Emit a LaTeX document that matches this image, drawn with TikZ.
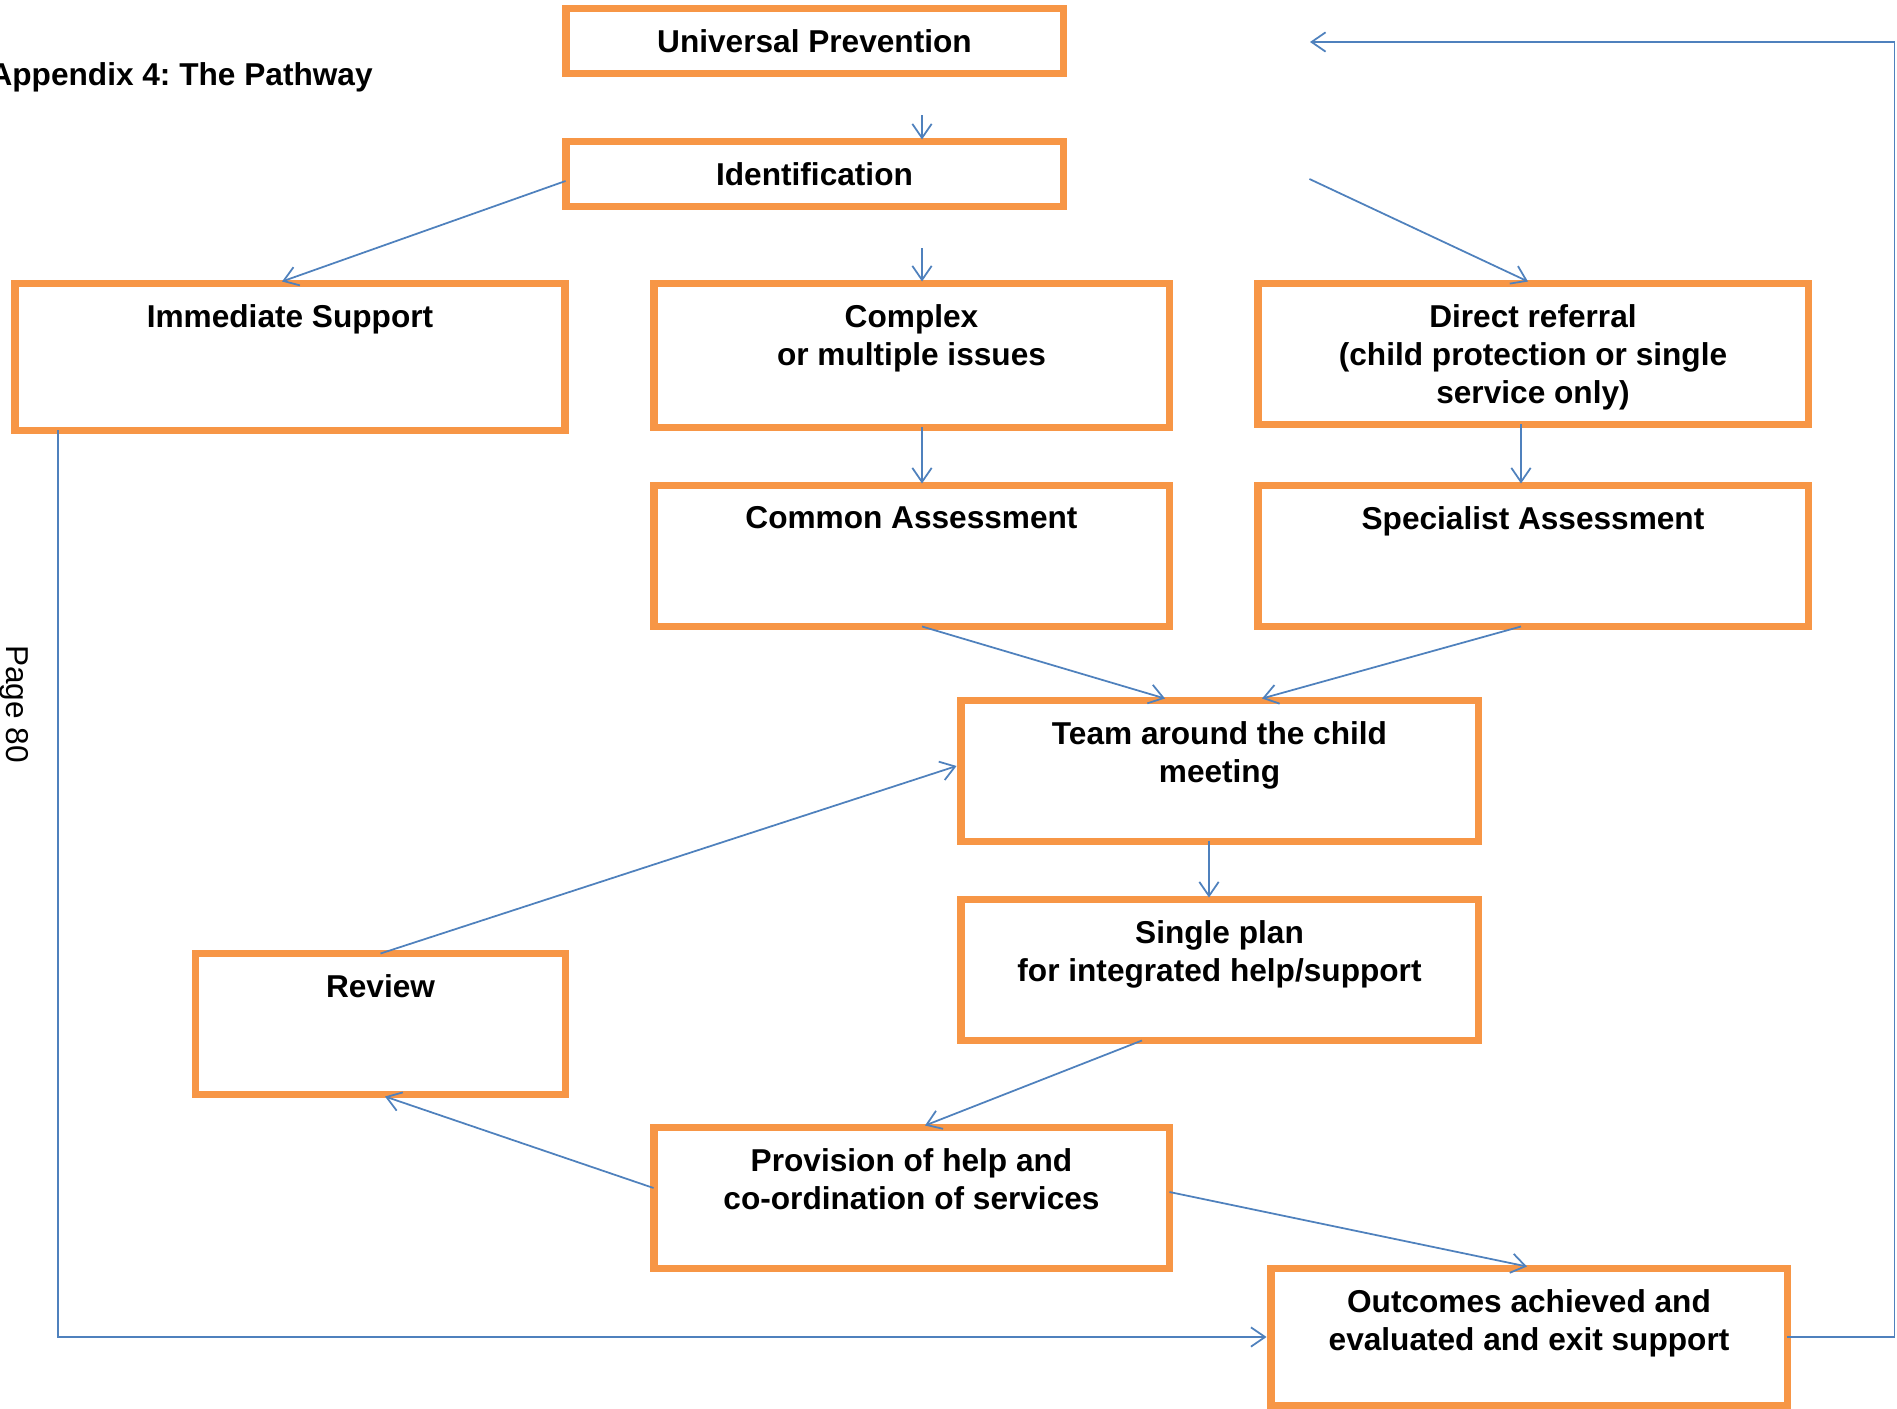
\documentclass[tikz,border=0pt]{standalone}
\usepackage{fontspec}
\setmainfont{Liberation Sans}
\frenchspacing
\usetikzlibrary{arrows.meta, calc}
\definecolor{pborder}{RGB}{247,150,70}
\definecolor{plink}{RGB}{79,129,189}
\tikzset{
  pbox/.style={    % orange pathway box
    draw=pborder, fill=white, line width=4.5pt, outer sep=0pt, inner sep=0pt,
    align=center, font=\fontsize{18}{21.6}\selectfont\bfseries
  },
  ptext/.style={   % caption hung from the top edge of a box
    anchor=north, inner sep=0pt, align=center,
    font=\fontsize{18}{21.6}\selectfont\bfseries
  },
  parr/.style={-{Straight Barb[length=8pt, width=11pt]}, line width=1pt, color=plink},
}

\begin{document}
\begin{tikzpicture}[x=0.02cm, y=-0.02cm]
\useasboundingbox (0,0) rectangle (1897,1409);

%% ─── Title and page number ───────────────────────────────────────────────────
\node[font=\fontsize{18}{21.6}\selectfont\bfseries, anchor=east, inner sep=0pt]
  (title) at (373, 77) {Appendix 4: The Pathway};
\node[font=\fontsize{18}{21.6}\selectfont, rotate=-90, inner sep=0pt]
  (pgno) at (14, 704) {Page 80};

%% ─── Top column ──────────────────────────────────────────────────────────────
\node[pbox, minimum width=9.96cm, minimum height=1.30cm] (univ)  at (814.5,  41) {Universal Prevention};
\node[pbox, minimum width=9.96cm, minimum height=1.30cm] (ident) at (814.5, 174) {Identification};

%% ─── Second row ──────────────────────────────────────────────────────────────
\node[pbox, minimum width=11.02cm, minimum height=2.94cm] (imm)  at ( 290,   357)   {};
\node[pbox, minimum width=10.32cm, minimum height=2.88cm] (cplx) at ( 911.5, 355.5) {};
\node[pbox, minimum width=11.02cm, minimum height=2.82cm] (dref) at (1533,   354)   {};

\node[ptext] (immT)  at ($(imm.north)+(0,21)$)  {Immediate Support};
\node[ptext] (cplxT) at ($(cplx.north)+(0,21)$) {Complex\\or multiple issues};
\node[ptext] (drefT) at ($(dref.north)+(0,21)$) {Direct referral\\(child protection or single\\service only)};

%% ─── Assessments ─────────────────────────────────────────────────────────────
\node[pbox, minimum width=10.32cm, minimum height=2.82cm] (comm) at ( 911.5, 556) {};
\node[pbox, minimum width=11.02cm, minimum height=2.82cm] (spec) at (1533,   556) {};

\node[ptext] (commT) at ($(comm.north)+(0,21)$) {Common Assessment};
\node[ptext] (specT) at ($(spec.north)+(0,21)$) {Specialist Assessment};

%% ─── Team, plan, provision ───────────────────────────────────────────────────
\node[pbox, minimum width=10.36cm, minimum height=2.82cm] (team)   at (1219.5,  771) {};
\node[pbox, minimum width=10.36cm, minimum height=2.82cm] (single) at (1219.5,  970) {};
\node[pbox, minimum width=7.40cm,  minimum height=2.82cm] (review) at ( 380.5, 1024) {};
\node[pbox, minimum width=10.32cm, minimum height=2.82cm] (prov)   at ( 911.5, 1198) {};
\node[pbox, minimum width=10.34cm, minimum height=2.74cm] (outc)   at (1529,   1337) {};

\node[ptext] (teamT)   at ($(team.north)+(0,21)$)   {Team around the child\\meeting};
\node[ptext] (singleT) at ($(single.north)+(0,21)$) {Single plan\\for integrated help/support};
\node[ptext] (reviewT) at ($(review.north)+(0,21)$) {Review};
\node[ptext] (provT)   at ($(prov.north)+(0,21)$)   {Provision of help and\\co-ordination of services};
\node[ptext] (outcT)   at ($(outc.north)+(0,21)$)   {Outcomes achieved and\\evaluated and exit support};

%% ─── Connectors ──────────────────────────────────────────────────────────────
\draw[parr] ($(univ.south)+(107.5,42)$)  -- ($(ident.north)+(107.5,-2)$);
\draw[parr] ($(ident.west)+(0,7)$)       -- ($(imm.north)+(-8,-2)$);
\draw[parr] ($(ident.south)+(107.5,42)$) -- ($(cplx.north)+(10.5,-2)$);
\draw[parr] ($(ident.east)+(246,5)$)     -- ($(dref.north)+(-5,-2)$);

\draw[parr] ($(cplx.south)+(10.5,0)$) -- ($(comm.north)+(10.5,-2)$);
\draw[parr] ($(dref.south)+(-12,0)$)  -- ($(spec.north)+(-12,-2)$);

% both assessments feed the meeting
\draw[parr] ($(comm.south)+(10.5,0)$) -- ($(team.north)+(-54.5,-2)$);
\draw[parr] ($(spec.south)+(-12,0)$)  -- ($(team.north)+(42.5,-2)$);

\draw[parr] ($(team.south)+(-10.5,0)$)   -- ($(single.north)+(-10.5,-2)$);
\draw[parr] ($(single.south)+(-77.5,0)$) -- ($(prov.north)+(13.5,-2)$);

% review loop
\draw[parr] ($(prov.west)+(0,-10)$) -- ($(review.south)+(4.5,2)$);
\draw[parr] (review.north) -- ($(team.west)+(-4,-5)$);

\draw[parr] ($(prov.east)+(0,-6)$) -- ($(outc.north)+(-2,-2)$);

% outer routes
\draw[parr] ($(imm.south)+(-232,0)$) |- ($(outc.west)+(-4,0)$);
\coordinate (back) at (1310, 42);
\draw[parr] (outc.east) -- ++(107,0) |- (back);

\end{tikzpicture}
\end{document}
